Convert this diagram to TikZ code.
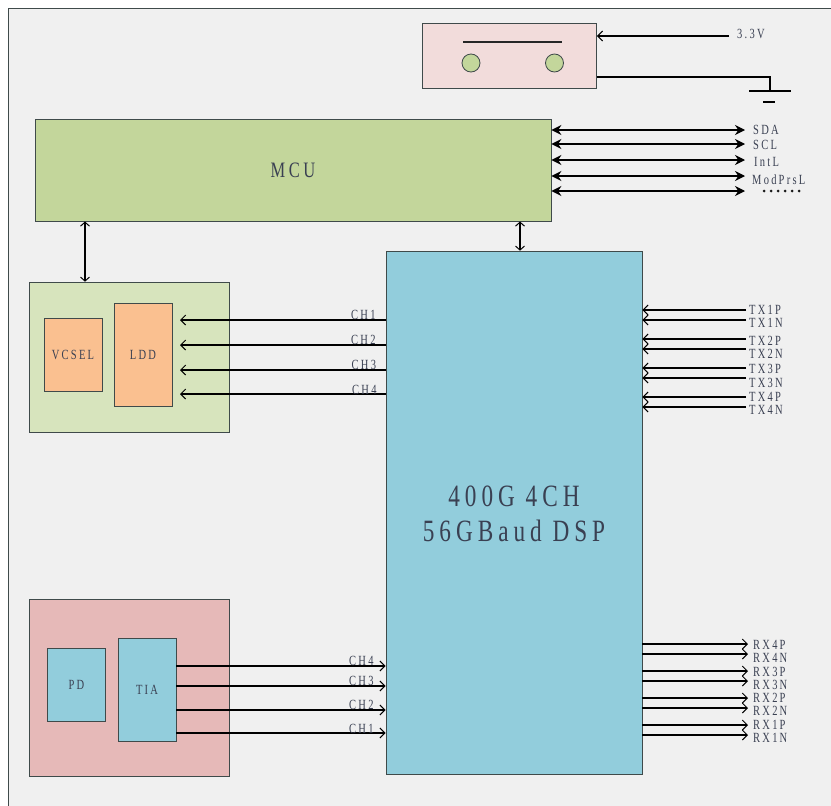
\documentclass[tikz,border=0pt]{standalone}
\usepackage{fontspec}
\setmainfont{Liberation Serif}
\newfontfamily\widefont[LetterSpace=16,FakeStretch=0.75]{Liberation Serif}
\usetikzlibrary{arrows.meta}
\definecolor{pagebg}{HTML}{F0F0F0}
\definecolor{edge}{HTML}{3F4A4A}
\definecolor{txt}{HTML}{3A4052}
\definecolor{mcug}{HTML}{C3D69B}
\definecolor{lgreen}{HTML}{D7E4BD}
\definecolor{peach}{HTML}{FAC090}
\definecolor{dblue}{HTML}{92CDDC}
\definecolor{rosy}{HTML}{E6B9B8}
\definecolor{lpink}{HTML}{F2DCDB}
\tikzset{
  x=1pt,y=-1pt,
  blk/.style={draw=edge,line width=0.8pt,inner sep=0pt,anchor=north west,text=txt},
  sig/.style={draw=black,line width=1.3pt},
  open/.style={sig,-{Straight Barb[length=5pt,width=10pt,line width=1pt]}},
  both/.style={sig,{Stealth[length=10pt,width=10pt]}-{Stealth[length=10pt,width=10pt]}},
  bothopen/.style={sig,{Straight Barb[length=4pt,width=9pt,line width=1pt]}-{Straight Barb[length=4pt,width=9pt,line width=1pt]}},
  lab/.style={inner sep=0pt,anchor=west,text=txt,font=\widefont\fontsize{14}{14}\selectfont},
  biglab/.style={inner sep=0pt,text=txt,font=\widefont\fontsize{31}{31}\selectfont},
}
\newcommand{\bx}[7]{\node[blk,fill=#6,minimum width=#4pt,minimum height=#5pt] (#1) at (#2-0.4,#3-0.3) {#7};}
\begin{document}
\begin{tikzpicture}
\useasboundingbox (0,0) rectangle (831,806);
\fill[white] (0,0) rectangle (831,806);
\fill[pagebg] (9,9) rectangle (831,806);
\draw[edge,line width=0.8pt] (831,8.5) -- (8.5,8.5) -- (8.5,806);

% blocks
\bx{sw}{422.5}{23}{174}{65}{lpink}{}
\bx{mcu}{35}{119}{516}{102}{mcug}{\widefont\fontsize{22}{22}\selectfont MCU}
\bx{dsp}{386}{251}{256}{523}{dblue}{}
\node[biglab] (dsp1) at (514,496) {400G 4CH};
\node[biglab] (dsp2) at (514,531) {56GBaud DSP};
\bx{tx}{29}{282}{200}{150}{lgreen}{}
\bx{vcsel}{44}{318.5}{58}{72.5}{peach}{\widefont\fontsize{14}{14}\selectfont VCSEL}
\bx{ldd}{114}{303}{58}{103}{peach}{\widefont\fontsize{14}{14}\selectfont LDD}
\bx{rx}{29}{599}{200}{177}{rosy}{}
\bx{pd}{47.5}{648}{58}{73}{dblue}{\widefont\fontsize{14}{14}\selectfont PD}
\bx{tia}{118}{638}{58}{103}{dblue}{\widefont\fontsize{14}{14}\selectfont TIA}

% switch
\coordinate (barl) at (463,42);
\coordinate (barr) at (562,42);
\draw[line width=1.3pt,black!85] (barl) -- (barr);
\node[circle,draw=edge,line width=0.8pt,fill=mcug,minimum size=18pt,inner sep=0pt] (c1) at (471,63) {};
\node[circle,draw=edge,line width=0.8pt,fill=mcug,minimum size=18pt,inner sep=0pt] (c2) at (554.5,63) {};

% power
\coordinate (vin) at (729,36);
\coordinate (gndc) at (770,77);
\coordinate (gndt) at (770,91);
\coordinate (gl) at (749,91);
\coordinate (gr) at (791,91);
\coordinate (hl) at (763,102);
\coordinate (hr) at (775,102);
\node[lab] (v33) at (737,33.5) {3.3V};
\draw[open] (vin) -- (sw.east |- vin);
\draw[sig] (sw.east |- gndc) -- (gndc) -- (gndt);
\draw[sig] (gl) -- (gr);
\draw[sig] (hl) -- (hr);

% MCU bus
\foreach \n/\y/\lx/\ly/\t in {a/130/753/130/SDA,b/144/753/144.5/SCL,c/160/754/161.5/IntL,d/176/752/179.5/ModPrsL}{
  \coordinate (m\n) at (745,\y);
  \draw[both] (mcu.east |- m\n) -- (m\n);
  \node[lab] (ml\n) at (\lx,\ly) {\t};
}
\coordinate (me) at (745,191);
\draw[both] (mcu.east |- me) -- (me);
\foreach \x in {764,771,778,785,792,799}{\fill[black!90] (\x,191) circle (1.5);}

% vertical links
\coordinate (ltx) at (85,221);
\draw[bothopen] (mcu.south -| ltx) -- (tx.north -| ltx);
\coordinate (ldsp) at (520,221);
\draw[bothopen] (mcu.south -| ldsp) -- (dsp.north -| ldsp);

% CH tx
\foreach \y/\ly/\lx/\t in {320/314.5/351/CH1,345/339.5/351/CH2,370/364.5/351.5/CH3,394/389.5/352/CH4}{
  \coordinate (t\t) at (180,\y);
  \draw[open] (dsp.west |- t\t) -- (t\t);
  \node[lab] (tl\t) at (\lx,\ly) {\t};
}
% CH rx
\foreach \y/\ly/\lx/\t in {666/660.5/349/CH4,686/680.5/349/CH3,710/704.5/349/CH2,733/728.5/349/CH1}{
  \coordinate (r\t) at (176,\y);
  \draw[open] (r\t) -- (dsp.west |- r\t);
  \node[lab] (rl\t) at (\lx,\ly) {\t};
}
% TX lines
\foreach \y/\ly/\t in {310/309.5/TX1P,320/322.5/TX1N,339/341/TX2P,349/354/TX2N,368/368.5/TX3P,378/382.5/TX3N,397/396.5/TX4P,407/409.5/TX4N}{
  \coordinate (e\t) at (746,\y);
  \draw[open] (e\t) -- (dsp.east |- e\t);
  \node[lab] (el\t) at (749,\ly) {\t};
}
% RX lines
\foreach \y/\ly/\t in {644/644.5/RX4P,654/657.5/RX4N,671/671.5/RX3P,681/684.5/RX3N,698/698/RX2P,708/711/RX2N,725/725/RX1P,735/738/RX1N}{
  \coordinate (o\t) at (748,\y);
  \draw[open] (dsp.east |- o\t) -- (o\t);
  \node[lab] (ol\t) at (753,\ly) {\t};
}
\end{tikzpicture}
\end{document}
